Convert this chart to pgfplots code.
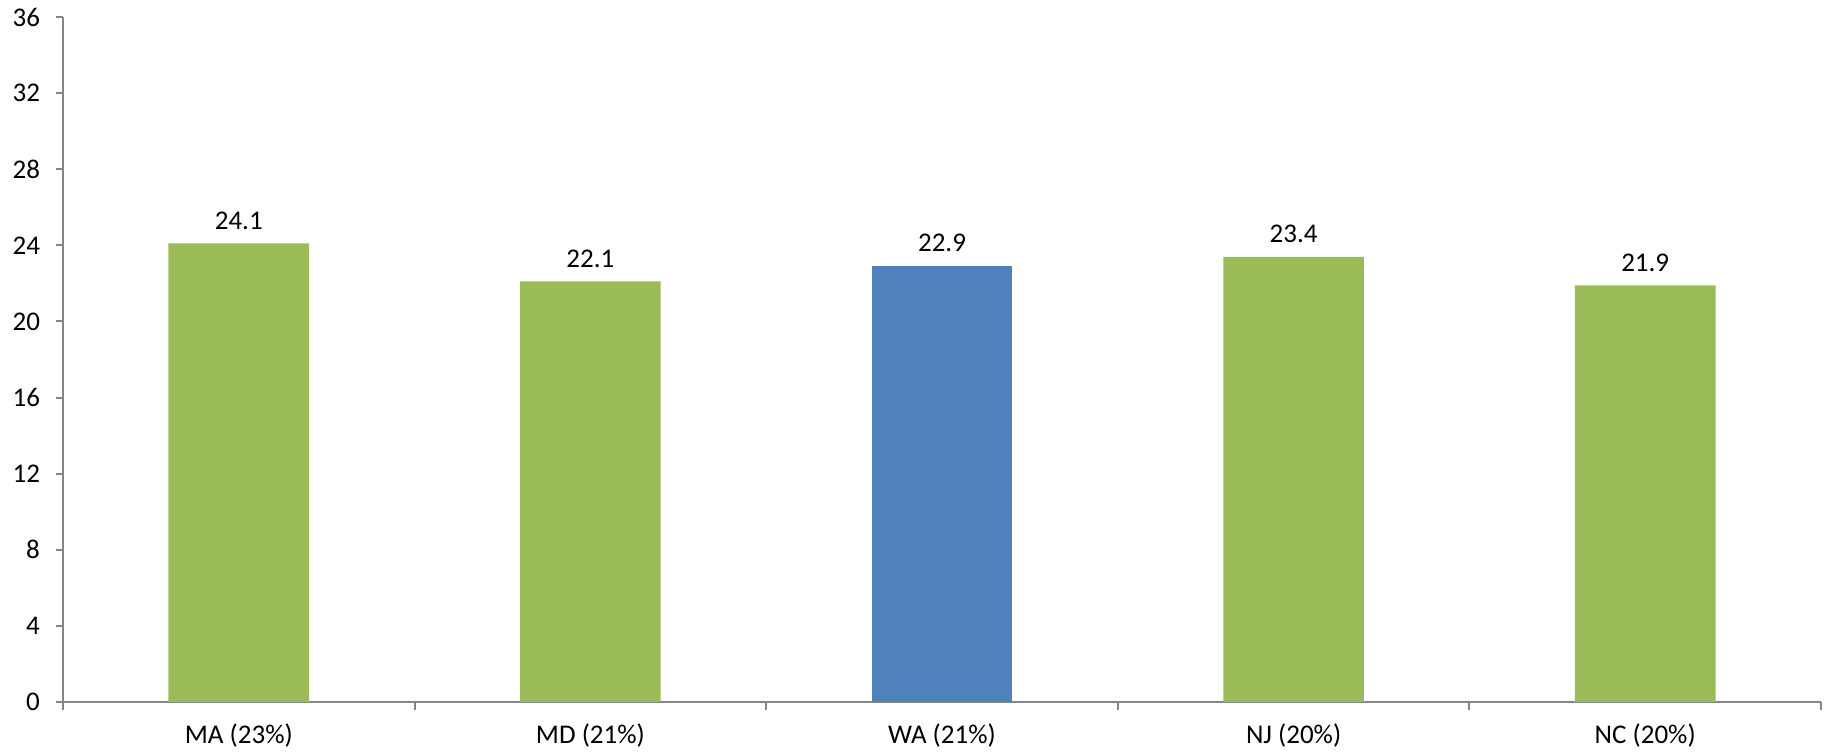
\documentclass[border=0pt]{standalone}
\usepackage{fontspec}
\setmainfont{Carlito}
\usepackage{pgfplots}
\pgfplotsset{compat=1.18}
\definecolor{barGreen}{HTML}{9BBB59}
\definecolor{barBlue}{HTML}{4F81BD}
\definecolor{axGray}{HTML}{868686}

\begin{document}
\begin{tikzpicture}
\begin{axis}[
    width=879pt, height=342.5pt, scale only axis,
    ybar, bar width=0.4, bar shift=0pt,
    xmin=-0.5, xmax=4.5, ymin=0, ymax=36,
    ytick={0,4,...,36},
    xtick={0,...,4},
    xticklabels={MA (23\%), MD (21\%), WA (21\%), NJ (20\%), NC (20\%)},
    minor xtick={-0.5,0.5,...,4.5},
    axis lines*=left,
    axis line style={axGray, line width=1pt},
    tick align=outside,
    major x tick style={draw=none},
    tick style={axGray, line width=1pt},
    major tick length=3.5pt,
    minor tick length=4pt,
    /pgf/number format/assume math mode=true,
    ticklabel style={font=\fontsize{13.5}{16}\selectfont, text=black},
    yticklabel style={xshift=-4.5pt},
    xticklabel style={yshift=-4pt},
    nodes near coords,
    every node near coord/.append style={font=\fontsize{13.5}{16}\selectfont, text=black, yshift=3.5pt},
    clip=false,
]
\addplot[fill=barGreen, draw=none] coordinates {(0,24.1) (1,22.1) (3,23.4) (4,21.9)};
\addplot[fill=barBlue, draw=none] coordinates {(2,22.9)};
\end{axis}
\pgfresetboundingbox
\path[use as bounding box] ([shift={(-31.5pt,-24.5pt)}]current axis.south west) rectangle ([shift={(2pt,8.5pt)}]current axis.north east);
\end{tikzpicture}
\end{document}
